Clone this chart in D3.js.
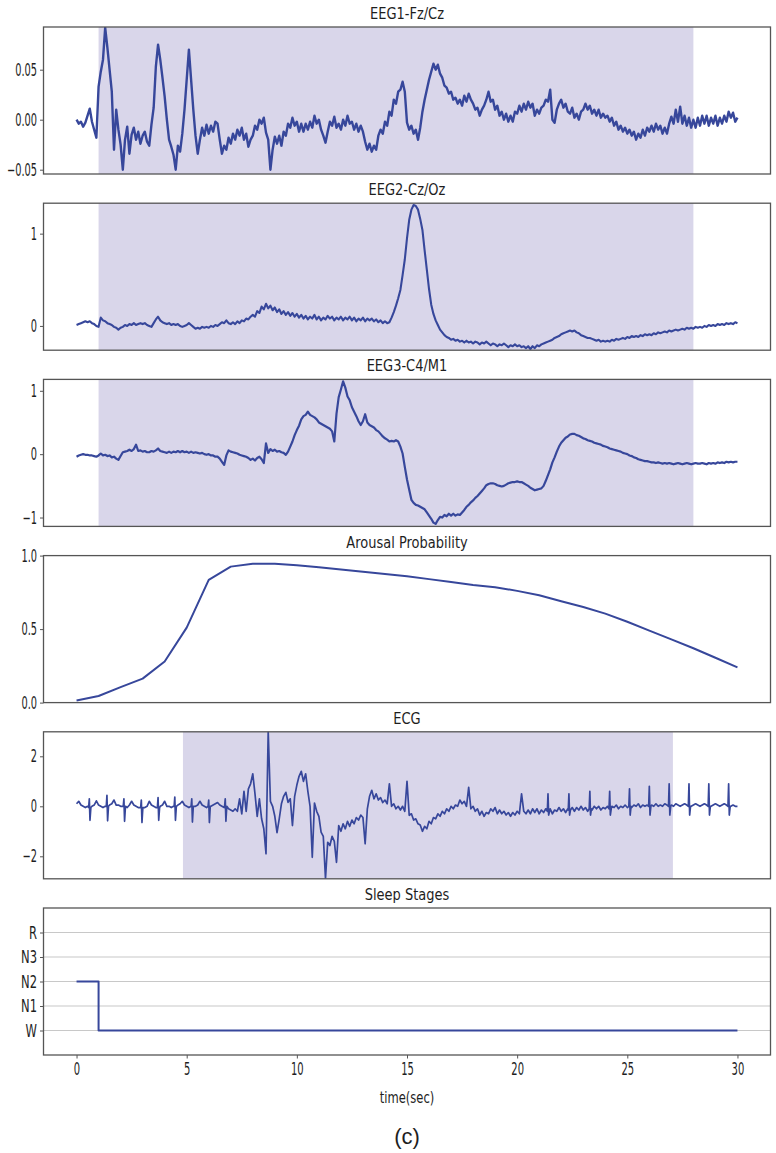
<!DOCTYPE html>
<html><head><meta charset="utf-8">
<script src="https://cdn.jsdelivr.net/npm/d3@7"></script>
<style>body{margin:0;background:#fff;} svg{display:block;}</style>
</head><body><svg id="c" width="776" height="1153"></svg>
<script>
// ---------------- DATA ----------------
const timeStep = 0.1; // seconds between samples, t = 0 ... 30
const titles = ["EEG1-Fz/Cz", "EEG2-Cz/Oz", "EEG3-C4/M1", "Arousal Probability", "ECG", "Sleep Stages"];
const eegShade = [1.0, 28.0];
const ecgShade = [4.83, 27.07];

const eeg1 = [
 0.000,-0.004,-0.002,-0.007,-0.003,0.004,0.011,-0.002,-0.010,-0.018,
 0.033,0.048,0.060,0.092,0.072,0.050,0.028,-0.030,0.010,-0.010,
 -0.025,-0.050,-0.020,-0.007,-0.034,-0.015,-0.008,-0.020,-0.012,-0.024,
 -0.016,-0.012,-0.022,-0.026,-0.005,0.012,0.053,0.075,0.060,0.042,
 0.023,0.000,-0.020,-0.027,-0.035,-0.050,-0.026,-0.032,-0.014,0.010,
 0.040,0.070,0.040,0.010,-0.016,-0.034,-0.020,-0.008,-0.016,-0.005,
 -0.014,-0.006,-0.012,-0.002,-0.004,-0.020,-0.034,-0.026,-0.030,-0.018,
 -0.024,-0.014,-0.020,-0.010,-0.016,-0.008,-0.020,-0.014,-0.027,-0.020,
 -0.016,-0.006,-0.010,0.000,-0.004,0.002,-0.013,-0.020,-0.050,-0.030,
 -0.017,-0.024,-0.016,-0.026,-0.012,-0.016,-0.004,-0.008,0.002,-0.006,
 -0.002,-0.012,-0.004,-0.012,-0.004,-0.010,-0.002,-0.008,0.004,-0.004,
 0.000,-0.010,-0.016,-0.023,-0.012,-0.002,-0.006,0.003,-0.008,-0.004,
 -0.010,0.000,-0.006,0.004,-0.004,-0.002,-0.010,-0.004,-0.012,-0.006,
 -0.012,-0.022,-0.030,-0.024,-0.032,-0.026,-0.030,-0.016,-0.010,-0.014,
 -0.002,-0.006,0.008,0.004,0.020,0.016,0.028,0.030,0.038,0.028,
 -0.003,-0.010,-0.006,-0.014,-0.010,-0.020,-0.008,0.008,0.020,0.030,
 0.040,0.048,0.056,0.050,0.055,0.046,0.042,0.034,0.032,0.026,
 0.028,0.020,0.022,0.016,0.020,0.014,0.024,0.018,0.026,0.020,
 0.016,0.010,0.012,0.004,0.010,0.014,0.020,0.028,0.018,0.020,
 0.010,0.014,0.004,0.008,0.000,0.006,-0.002,0.004,-0.002,0.008,
 0.006,0.014,0.008,0.016,0.010,0.018,0.012,0.016,0.004,0.010,
 0.006,0.012,0.014,0.020,0.018,0.030,0.000,-0.003,0.010,0.016,
 0.020,0.012,0.016,0.008,0.006,0.012,0.002,0.006,0.000,0.008,
 0.010,0.016,0.010,0.014,0.006,0.010,0.004,0.010,0.002,0.006,
 0.002,0.004,-0.002,0.002,-0.006,-0.002,-0.010,-0.006,-0.012,-0.008,
 -0.014,-0.010,-0.016,-0.012,-0.020,-0.014,-0.018,-0.010,-0.016,-0.008,
 -0.012,-0.006,-0.012,-0.004,-0.010,-0.006,-0.014,-0.008,-0.014,-0.004,
 0.003,-0.004,0.010,-0.002,0.013,-0.004,0.004,-0.006,0.002,-0.008,
 0.000,-0.008,0.002,-0.006,0.004,-0.004,0.004,-0.006,0.002,-0.004,
 0.004,-0.006,0.002,-0.004,0.004,-0.002,0.008,0.002,0.007,-0.002,
 0.002];

const eeg2 = [
 0.01,0.02,0.03,0.04,0.05,0.04,0.05,0.03,0.02,0.00,
 -0.01,0.09,0.06,0.05,0.03,0.02,0.01,-0.01,-0.02,-0.04,
 -0.02,-0.01,0.01,0.00,0.02,0.01,0.03,0.01,0.02,0.03,
 0.02,0.03,0.01,0.00,-0.01,0.03,0.07,0.10,0.06,0.04,
 0.03,0.02,0.03,0.01,0.02,0.01,0.02,0.00,-0.01,0.00,
 0.01,0.03,0.01,-0.01,-0.03,-0.02,-0.03,-0.01,-0.02,-0.01,
 -0.02,0.00,-0.01,0.01,0.00,0.02,0.04,0.03,0.06,0.03,
 0.02,0.04,0.02,0.05,0.03,0.06,0.05,0.08,0.07,0.10,
 0.12,0.10,0.16,0.14,0.21,0.18,0.24,0.19,0.22,0.17,
 0.20,0.15,0.18,0.13,0.16,0.12,0.15,0.11,0.14,0.10,
 0.13,0.09,0.12,0.08,0.11,0.07,0.10,0.08,0.12,0.07,
 0.10,0.06,0.09,0.07,0.11,0.08,0.10,0.06,0.09,0.07,
 0.10,0.06,0.09,0.07,0.10,0.06,0.09,0.05,0.08,0.06,
 0.09,0.05,0.08,0.06,0.08,0.05,0.07,0.04,0.06,0.03,
 0.05,0.03,0.04,0.09,0.15,0.22,0.30,0.39,0.55,0.72,
 0.95,1.15,1.26,1.31,1.30,1.26,1.16,1.04,0.82,0.61,
 0.40,0.23,0.13,0.06,0.01,-0.04,-0.07,-0.10,-0.12,-0.13,
 -0.15,-0.14,-0.16,-0.15,-0.17,-0.16,-0.18,-0.16,-0.18,-0.17,
 -0.19,-0.17,-0.18,-0.20,-0.18,-0.19,-0.17,-0.19,-0.21,-0.19,
 -0.20,-0.22,-0.20,-0.21,-0.19,-0.21,-0.23,-0.21,-0.22,-0.20,
 -0.22,-0.21,-0.23,-0.22,-0.24,-0.22,-0.25,-0.22,-0.24,-0.21,
 -0.22,-0.20,-0.19,-0.18,-0.17,-0.16,-0.15,-0.13,-0.12,-0.11,
 -0.09,-0.08,-0.07,-0.06,-0.05,-0.06,-0.05,-0.07,-0.08,-0.10,
 -0.11,-0.12,-0.13,-0.13,-0.14,-0.15,-0.16,-0.15,-0.17,-0.16,
 -0.17,-0.16,-0.17,-0.15,-0.16,-0.14,-0.15,-0.14,-0.13,-0.14,
 -0.12,-0.13,-0.11,-0.12,-0.11,-0.12,-0.10,-0.11,-0.09,-0.10,
 -0.09,-0.10,-0.08,-0.09,-0.07,-0.08,-0.07,-0.06,-0.07,-0.05,
 -0.06,-0.05,-0.04,-0.05,-0.04,-0.03,-0.04,-0.02,-0.03,-0.02,
 -0.03,-0.01,-0.02,-0.01,-0.02,0.00,-0.01,0.01,0.00,0.01,
 0.00,0.02,0.01,0.02,0.01,0.03,0.02,0.03,0.02,0.04,
 0.03];

const eeg3 = [
 -0.04,-0.02,-0.01,0.00,-0.01,-0.01,-0.02,-0.02,-0.03,-0.04,
 -0.02,0.01,-0.02,-0.01,-0.03,-0.02,-0.05,-0.04,-0.07,-0.09,
 -0.03,0.03,0.04,0.05,0.07,0.05,0.08,0.15,0.05,0.06,
 0.04,0.05,0.03,0.03,0.05,0.04,0.06,0.09,0.05,0.04,
 0.03,0.02,0.04,0.02,0.04,0.03,0.05,0.03,0.05,0.03,
 0.04,0.02,0.04,0.02,0.03,0.02,0.01,0.02,0.00,-0.01,
 0.00,-0.02,-0.02,-0.04,-0.04,-0.07,-0.12,-0.17,-0.02,0.06,
 0.04,0.03,0.02,0.01,-0.01,-0.02,-0.03,-0.04,-0.06,-0.09,
 -0.07,-0.10,-0.06,-0.04,-0.08,-0.14,0.17,0.02,0.08,0.05,
 0.07,0.04,0.05,0.03,0.02,-0.01,0.04,0.12,0.20,0.30,
 0.38,0.45,0.55,0.60,0.62,0.67,0.62,0.60,0.58,0.55,
 0.50,0.48,0.46,0.44,0.42,0.40,0.36,0.20,0.64,0.90,
 1.02,1.15,1.05,0.91,0.85,0.74,0.67,0.60,0.52,0.46,
 0.52,0.63,0.50,0.46,0.44,0.42,0.38,0.36,0.32,0.28,
 0.25,0.23,0.20,0.21,0.20,0.22,0.20,0.12,0.01,-0.20,
 -0.40,-0.56,-0.72,-0.77,-0.80,-0.81,-0.83,-0.85,-0.87,-0.92,
 -0.97,-1.02,-1.08,-1.10,-1.04,-0.99,-1.00,-0.96,-0.98,-0.94,
 -0.97,-0.94,-0.97,-0.95,-0.96,-0.92,-0.88,-0.83,-0.80,-0.76,
 -0.73,-0.69,-0.66,-0.62,-0.58,-0.54,-0.49,-0.47,-0.46,-0.46,
 -0.47,-0.49,-0.50,-0.51,-0.50,-0.48,-0.46,-0.45,-0.44,-0.44,
 -0.43,-0.44,-0.44,-0.46,-0.48,-0.50,-0.53,-0.55,-0.57,-0.56,
 -0.55,-0.54,-0.50,-0.42,-0.33,-0.24,-0.13,-0.05,0.04,0.12,
 0.18,0.22,0.26,0.28,0.31,0.32,0.32,0.30,0.29,0.27,
 0.25,0.24,0.22,0.21,0.20,0.18,0.17,0.16,0.15,0.13,
 0.12,0.11,0.09,0.08,0.07,0.06,0.05,0.04,0.02,0.01,
 0.00,-0.02,-0.03,-0.05,-0.06,-0.08,-0.09,-0.10,-0.11,-0.11,
 -0.12,-0.13,-0.13,-0.14,-0.13,-0.14,-0.15,-0.14,-0.15,-0.14,
 -0.15,-0.16,-0.15,-0.14,-0.15,-0.16,-0.15,-0.14,-0.15,-0.16,
 -0.15,-0.14,-0.15,-0.15,-0.14,-0.15,-0.16,-0.14,-0.15,-0.14,
 -0.15,-0.13,-0.14,-0.13,-0.14,-0.12,-0.13,-0.12,-0.13,-0.12,
 -0.12];

const arousalStep = 1.0;
const arousal = [0.015,0.045,0.105,0.163,0.28,0.51,0.835,0.925,0.945,0.945,
 0.935,0.92,0.905,0.89,0.875,0.86,0.84,0.82,0.80,0.785,
 0.76,0.73,0.69,0.65,0.605,0.55,0.49,0.43,0.37,0.305,0.24];

const ecg = [
 0.10,0.20,0.05,0.00,-0.05,0.00,-0.05,0.00,0.05,0.22,
 0.05,0.00,-0.05,0.00,0.00,0.05,0.10,0.25,0.05,0.05,
 0.00,0.00,-0.05,-0.05,0.05,0.20,0.05,0.00,-0.05,-0.05,
 -0.10,-0.05,0.00,0.20,0.05,0.00,-0.05,-0.05,0.00,0.05,
 0.20,0.00,0.00,-0.05,0.00,0.00,0.05,0.10,0.20,0.05,
 0.00,-0.05,0.00,-0.05,0.00,0.05,0.20,0.05,0.00,-0.05,
 0.00,0.00,0.05,0.10,0.15,0.05,0.00,-0.05,0.00,-0.10,
 -0.15,-0.20,-0.10,-0.20,0.30,-0.30,0.60,-0.20,0.70,0.90,
 1.30,0.50,-0.40,0.30,-0.50,-0.90,-1.90,3.00,0.20,0.00,
 -0.40,-1.05,-0.50,0.10,0.40,0.56,0.16,0.30,-0.77,0.40,
 0.85,1.20,1.40,1.00,1.30,0.60,0.00,-2.04,0.13,-0.20,
 -0.40,-1.03,-1.20,-2.90,-1.44,-1.57,-1.20,-1.40,-2.24,-0.77,
 -1.00,-0.70,-0.90,-0.60,-0.80,-0.55,-0.70,-0.45,-0.55,-0.35,
 -0.45,-1.50,-0.10,0.40,0.64,0.30,0.50,0.25,0.35,0.15,
 0.25,0.10,0.90,0.00,0.10,-0.10,0.00,-0.15,0.00,-0.20,
 1.00,-0.36,-0.30,-0.55,-0.50,-0.70,-0.75,-1.00,-0.80,-0.90,
 -0.60,-0.70,-0.45,-0.50,-0.30,-0.40,-0.20,-0.30,-0.10,-0.20,
 0.00,-0.10,0.05,0.00,0.25,0.10,0.20,0.00,0.76,-0.10,
 0.00,-0.20,-0.10,-0.35,-0.20,-0.40,-0.25,-0.30,-0.10,-0.20,
 -0.05,-0.30,-0.15,-0.30,-0.20,-0.35,-0.25,-0.40,-0.25,-0.35,
 -0.20,-0.30,0.50,-0.20,-0.30,-0.15,-0.30,-0.10,-0.25,-0.10,
 -0.30,-0.15,-0.25,-0.10,-0.20,-0.10,-0.30,-0.15,-0.20,-0.05,
 -0.20,-0.10,-0.25,-0.10,-0.15,-0.05,-0.20,-0.05,-0.15,0.00,
 -0.15,-0.05,-0.20,-0.10,-0.15,0.00,-0.10,0.00,-0.15,-0.05,
 -0.10,0.00,-0.10,0.00,-0.05,0.05,-0.10,0.00,-0.05,0.05,
 -0.05,0.00,-0.05,0.05,0.00,0.10,-0.05,0.05,0.00,0.05,
 0.00,0.05,0.00,0.10,0.00,0.05,0.00,0.10,0.05,0.00,
 0.05,0.00,0.10,0.05,0.00,0.05,0.10,0.05,0.00,0.00,
 0.05,0.10,0.05,0.00,0.05,0.10,0.05,0.00,0.00,0.05,
 0.10,0.05,0.00,0.05,0.10,0.05,0.00,0.00,0.05,0.00,
 0.00];
// heart beats (R spikes): time, upward peak, downward peak
const beatT    = [0.58,1.38,2.15,2.94,3.70,4.46,5.23,6.00,6.75, 21.40,22.35,23.30,24.20,25.10,26.00,26.90,27.80,28.70,29.60];
const beatUp   = [0.30,0.44,0.30,0.25,0.35,0.37,0.30,0.25,0.30, 0.50,0.50,0.60,0.60,0.70,0.80,0.90,0.90,0.90,0.90];
const beatDown = [-0.56,-0.58,-0.60,-0.65,-0.56,-0.56,-0.63,-0.65,-0.60, -0.35,-0.35,-0.35,-0.35,-0.35,-0.35,-0.35,-0.35,-0.35,-0.35];

const stageLabels = ["W","N1","N2","N3","R"];
const stageT = [0, 1, 30];
const stageV = [2, 0, 0];

const xTicks = [0,5,10,15,20,25,30];
const eeg1Ticks = [-0.05, 0, 0.05];
const eeg2Ticks = [0, 1];
const eeg3Ticks = [-1, 0, 1];
const arousalTicks = [0, 0.5, 1.0];
const ecgTicks = [-2, 0, 2];
const stageTicks = [0,1,2,3,4];

// ---------------- DRAW ----------------
const LINE = "#37479b", SHADE = "#d9d6ea", FRAME = "#555", TXT = "#1e1e1e";
const svg = d3.select("#c");
const x = d3.scaleLinear().domain([-1.5, 31.5]).range([43.5, 770.5]);
const panelH = 147;
const topOf = i => 27 + i * 176.2;
const TICKFS = 17.5;

function squeeze(sel, s) {
  sel.each(function() {
    const t = d3.select(this);
    const xv = +t.attr("x") || 0;
    t.attr("x", xv / s).attr("transform", `scale(${s},1)`);
  });
}

const series = (arr, step) => arr.map((v, i) => ({t: +(i * step).toFixed(3), v}));

// ECG points: samples plus beat spikes
let ecgPts = series(ecg, timeStep);
beatT.forEach((bt) => { ecgPts = ecgPts.filter(p => !(p.t > bt - 0.03 && p.t < bt + 0.07)); });
beatT.forEach((bt, k) => {
  const base = ecg[Math.round(bt / timeStep)];
  ecgPts.push({t: bt - 0.03, v: base}, {t: bt, v: beatUp[k]}, {t: bt + 0.03, v: beatDown[k]}, {t: bt + 0.07, v: base});
});
ecgPts.sort((a, b) => a.t - b.t);

const panels = [
  {data: series(eeg1, timeStep), dom: [-0.0543, 0.0927], ticks: eeg1Ticks, fmt: d3.format(".2f"), shade: eegShade, sw: 2.4},
  {data: series(eeg2, timeStep), dom: [-0.263, 1.33], ticks: eeg2Ticks, fmt: d3.format("d"), shade: eegShade, sw: 2.1},
  {data: series(eeg3, timeStep), dom: [-1.14, 1.18], ticks: eeg3Ticks, fmt: d3.format("d"), shade: eegShade, sw: 2.2},
  {data: series(arousal, arousalStep), dom: [0, 1], ticks: arousalTicks, fmt: d3.format(".1f"), shade: null, sw: 2},
  {data: ecgPts, dom: [-2.9, 2.98], ticks: ecgTicks, fmt: d3.format("d"), shade: ecgShade, sw: 1.7},
  {data: stageT.map((t, i) => ({t, v: stageV[i]})), dom: [-1, 5], ticks: stageTicks, fmt: d => stageLabels[d], shade: null, sw: 2, step: true, grid: true}
];

panels.forEach((p, i) => {
  const top = topOf(i), bot = top + panelH;
  const y = d3.scaleLinear().domain(p.dom).range([bot, top]);
  const g = svg.append("g");
  const cid = "clip" + i;
  svg.append("clipPath").attr("id", cid).append("rect")
    .attr("x", x.range()[0]).attr("y", top).attr("width", x.range()[1] - x.range()[0]).attr("height", panelH);

  if (p.shade) {
    g.append("rect").attr("x", x(p.shade[0])).attr("y", top)
      .attr("width", x(p.shade[1]) - x(p.shade[0])).attr("height", panelH).attr("fill", SHADE);
  }
  if (p.grid) {
    g.selectAll("line.grid").data(p.ticks).join("line").attr("class", "grid")
      .attr("x1", x.range()[0]).attr("x2", x.range()[1])
      .attr("y1", d => y(d)).attr("y2", d => y(d))
      .attr("stroke", "#c8c8c8").attr("stroke-width", 1.2);
  }
  const line = d3.line().x(d => x(d.t)).y(d => y(d.v));
  if (p.step) line.curve(d3.curveStepAfter);
  g.append("path").datum(p.data).attr("d", line).attr("clip-path", `url(#${cid})`)
    .attr("fill", "none").attr("stroke", LINE).attr("stroke-width", p.sw).attr("stroke-linejoin", "round");

  g.append("rect").attr("x", x.range()[0]).attr("y", top)
    .attr("width", x.range()[1] - x.range()[0]).attr("height", panelH)
    .attr("fill", "none").attr("stroke", FRAME).attr("stroke-width", 1.3);

  const ax = g.append("g").attr("transform", `translate(${x.range()[0]},0)`)
    .call(d3.axisLeft(y).tickValues(p.ticks).tickFormat(p.fmt).tickSize(3.5).tickPadding(3));
  ax.select(".domain").remove();
  ax.selectAll(".tick line").attr("stroke", FRAME);
  ax.selectAll("text").attr("font-family", "DejaVu Sans").attr("font-size", TICKFS).attr("fill", TXT);
  squeeze(ax.selectAll("text"), p.grid ? 0.66 : 0.56);

  const tt = g.append("text").attr("x", (x.range()[0] + x.range()[1]) / 2).attr("y", top - 8)
    .attr("text-anchor", "middle").attr("font-family", "DejaVu Sans").attr("font-size", 15.5).attr("fill", TXT)
    .text(titles[i]);
  squeeze(tt, 0.84);

  if (i === panels.length - 1) {
    const xa = g.append("g").attr("transform", `translate(0,${bot})`)
      .call(d3.axisBottom(x).tickValues(xTicks).tickFormat(d3.format("d")).tickSize(3.5).tickPadding(4));
    xa.select(".domain").remove();
    xa.selectAll(".tick line").attr("stroke", FRAME);
    xa.selectAll("text").attr("font-family", "DejaVu Sans").attr("font-size", TICKFS).attr("fill", TXT);
    xa.selectAll(".tick text").attr("transform", "scale(0.57,1)");
    const xl = g.append("text").attr("x", 407).attr("y", bot + 48).attr("text-anchor", "middle")
      .attr("font-family", "DejaVu Sans").attr("font-size", 16.5).attr("fill", TXT).text("time(sec)");
    squeeze(xl, 0.7);
  }
});

svg.append("text").attr("x", 407).attr("y", 1144).attr("text-anchor", "middle")
  .attr("font-family", "Liberation Sans").attr("font-size", 22).attr("fill", TXT).text("(c)");
</script></body></html>
